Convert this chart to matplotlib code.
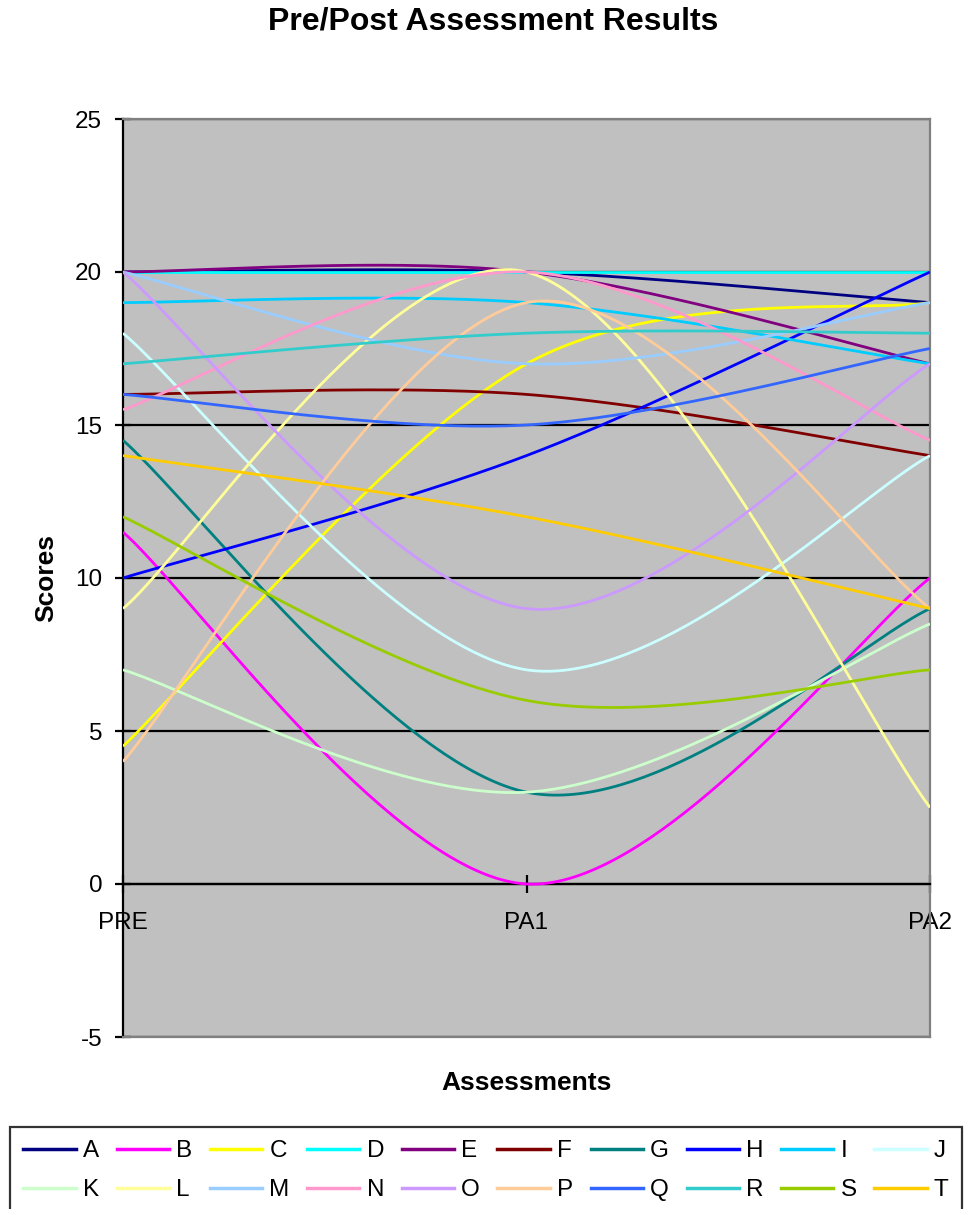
import numpy as np
import matplotlib
matplotlib.use('Agg')
import matplotlib.pyplot as plt
from matplotlib.lines import Line2D

plt.rcParams['font.family'] = ['Liberation Sans', 'DejaVu Sans']
plt.rcParams['axes.unicode_minus'] = False

assessments = ['PRE', 'PA1', 'PA2']
students = ['A', 'B', 'C', 'D', 'E', 'F', 'G', 'H', 'I', 'J',
            'K', 'L', 'M', 'N', 'O', 'P', 'Q', 'R', 'S', 'T']
pre_scores = [20, 11.5, 4.5, 20, 20, 16, 14.5, 10, 19, 18,
              7, 9, 20, 15.5, 20, 4, 16, 17, 12, 14]
pa1_scores = [20, 0, 17, 20, 20, 16, 3, 14, 19, 7,
              3, 20, 17, 20, 9, 19, 15, 18, 6, 12]
pa2_scores = [19, 10, 19, 20, 17, 14, 9, 20, 17, 14,
              8.5, 2.5, 19, 14.5, 17, 9, 17.5, 18, 7, 9]

# excel's default line chart palette
colors = ['#000080', '#FF00FF', '#FFFF00', '#00FFFF', '#800080', '#800000',
          '#008080', '#0000FF', '#00CCFF', '#CCFFFF', '#CCFFCC', '#FFFF99',
          '#99CCFF', '#FF99CC', '#CC99FF', '#FFCC99', '#3366FF', '#33CCCC',
          '#99CC00', '#FFCC00']


def smooth_line(xs, ys, n=80):
    # bezier smoothing like excel's "smoothed line"
    xs = np.asarray(xs, dtype=float)
    ys = np.asarray(ys, dtype=float)
    px = np.concatenate([[xs[0]], xs, [xs[-1]]])
    py = np.concatenate([[ys[0]], ys, [ys[-1]]])
    out_x, out_y = [], []
    t = np.linspace(0, 1, n)
    for i in range(len(xs) - 1):
        p0 = np.array([px[i + 1], py[i + 1]])
        p3 = np.array([px[i + 2], py[i + 2]])
        c1 = p0 + (p3 - np.array([px[i], py[i]])) / 6.0
        c2 = p3 - (np.array([px[i + 3], py[i + 3]]) - p0) / 6.0
        b = ((1 - t) ** 3)[:, None] * p0 + (3 * (1 - t) ** 2 * t)[:, None] * c1 \
            + (3 * (1 - t) * t ** 2)[:, None] * c2 + (t ** 3)[:, None] * p3
        out_x.extend(b[:, 0])
        out_y.extend(b[:, 1])
    return np.array(out_x), np.array(out_y)


fig = plt.figure(figsize=(9.64, 12.09), dpi=100)
ax = fig.add_axes([123 / 964, 1 - 1037 / 1209, 807 / 964, 918 / 1209])
ax.set_facecolor('#C0C0C0')

x_pos = np.arange(len(assessments))
handles = []
for i, name in enumerate(students):
    ys = [pre_scores[i], pa1_scores[i], pa2_scores[i]]
    sx, sy = smooth_line(x_pos, ys)
    ax.plot(sx, sy, color=colors[i], lw=2, solid_capstyle='butt', zorder=3 + i * 0.01)
    handles.append(Line2D([], [], color=colors[i], lw=2.5, label=name))

ax.set_xlim(0, 2)
ax.set_ylim(-5, 25)
ax.set_yticks(np.arange(-5, 26, 5))
ax.set_xticks(x_pos)
ax.set_xticklabels(assessments)

ax.grid(axis='y', color='black', lw=1.6)
ax.set_axisbelow(True)

ax.spines['bottom'].set_position(('data', 0))
ax.spines['bottom'].set_color('black')
ax.spines['bottom'].set_linewidth(1.6)
ax.spines['left'].set_color('black')
ax.spines['left'].set_linewidth(1.6)
for side in ['top', 'right']:
    ax.spines[side].set_color('#808080')
    ax.spines[side].set_linewidth(1.6)
ax.axhline(-5, color='#808080', lw=1.6, clip_on=False, zorder=2.6)

ax.tick_params(axis='y', direction='inout', length=12, width=1.6, pad=9, labelsize=17.5)
ax.tick_params(axis='x', direction='inout', length=13, width=1.6, pad=14, labelsize=17.5)

ax.set_ylabel('Scores', fontsize=19, fontweight='bold', va='center')
ax.yaxis.set_label_coords((46 - 123) / 807, 0.5)
ax.set_xlabel('Assessments', fontsize=19, fontweight='bold', va='center')
ax.xaxis.set_label_coords(0.5, (1037 - 1083) / 918)

fig.text(493 / 964, 1 - 21 / 1209, 'Pre/Post Assessment Results', fontsize=23,
         fontweight='bold', ha='center', va='center')

# legend fills column by column, so interleave to get A..J on the first row
ncols = 10
legend_order = [h for j in range(ncols) for h in (handles[j], handles[j + ncols])]
leg = fig.legend(handles=legend_order, ncol=ncols, loc='upper left',
                 bbox_to_anchor=(10 / 964, 1 - 1127 / 1209),
                 fontsize=17.5, frameon=True, fancybox=False,
                 handlelength=2.15, handletextpad=0.3, columnspacing=0.72,
                 borderpad=0.55, labelspacing=0.7, borderaxespad=0)
leg.get_frame().set_edgecolor('black')
leg.get_frame().set_linewidth(1.6)

fig.savefig('out.png', dpi=100)
